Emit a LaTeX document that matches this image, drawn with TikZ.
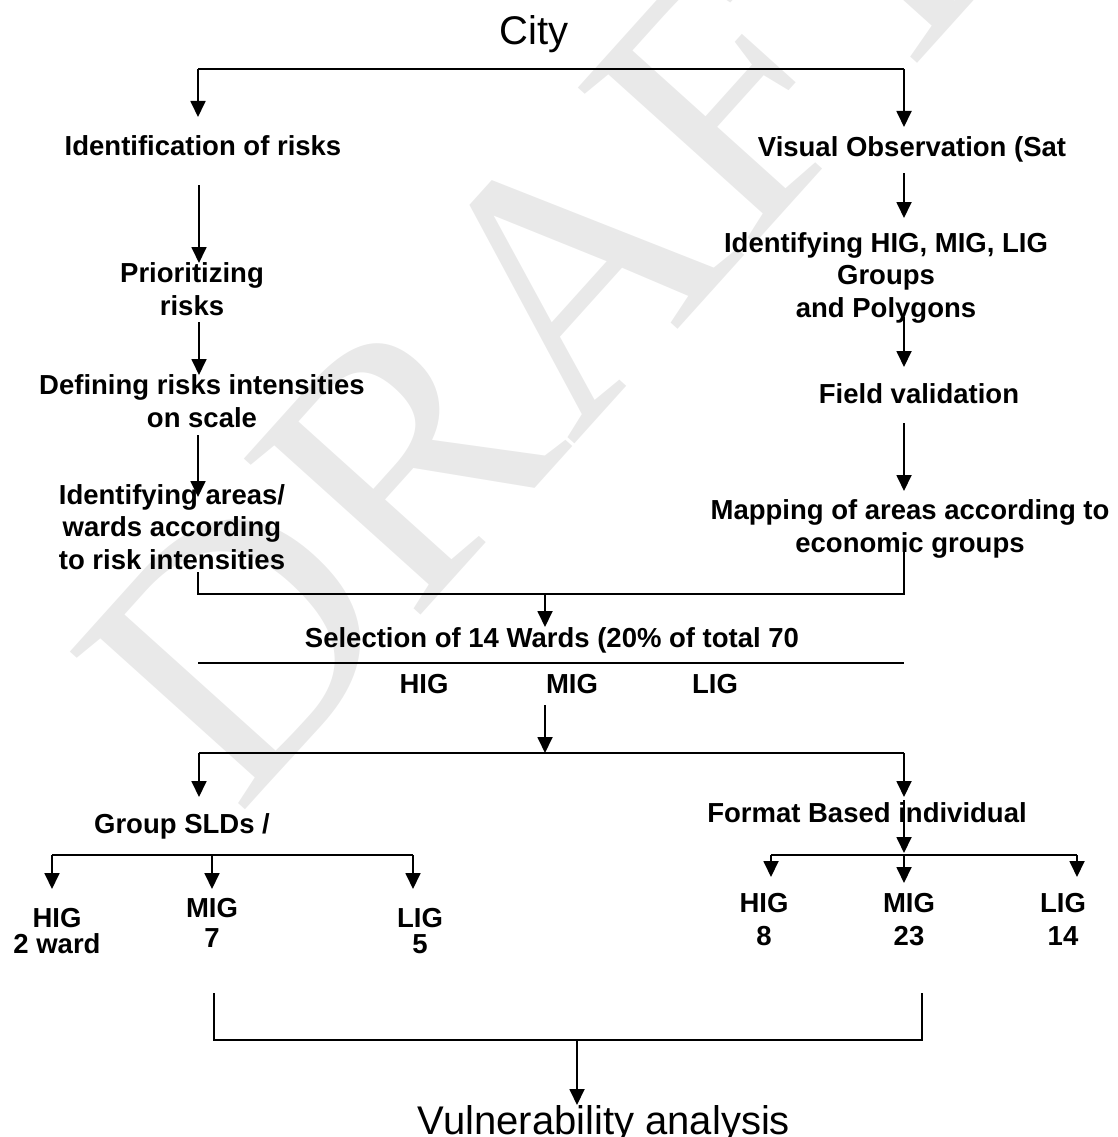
\documentclass[tikz,border=0pt]{standalone}
\usepackage{fontspec}
\setmainfont{Liberation Sans}
\newfontfamily\draftfont{Liberation Serif}
\usetikzlibrary{arrows.meta}

\tikzset{
  lbl/.style={font=\bfseries\fontsize{27.5}{32.5}\selectfont, align=center, anchor=base, inner sep=0pt},
  big/.style={font=\fontsize{40}{48}\selectfont, anchor=base, inner sep=0pt},
  link/.style={line width=1.8pt},
  arr/.style={line width=1.8pt, -{Triangle[width=15pt,length=16pt]}},
}

\begin{document}
\begin{tikzpicture}[x=1pt, y=-1pt]
    \useasboundingbox (0,0) rectangle (1118,1137);

    % watermark
    \node[text=gray!17, rotate=48, inner sep=0pt, font=\draftfont\fontsize{360}{360}\selectfont] (draft) at (545,300) {DRAFT};

    % labels (base = last line)
    \node[big] (city) at (534,45) {City};
    \node[lbl] (idrisk) at (203,155) {Identification of risks};
    \node[lbl] (prio) at (192,315) {Prioritizing\\risks};
    \node[lbl] (defrisk) at (202,427) {Defining risks intensities\\on scale};
    \node[lbl] (idarea) at (172,569) {Identifying areas/\\wards according\\to risk intensities};
    \node[lbl] (visual) at (912,157) {Visual Observation (Sat};
    \node[lbl] (idgroup) at (886,317) {Identifying HIG, MIG, LIG\\Groups\\and Polygons};
    \node[lbl] (field) at (919,403) {Field validation};
    \node[lbl] (mapping) at (910,552) {Mapping of areas according to\\economic groups};
    \node[lbl] (select) at (552,647) {Selection of 14 Wards (20\% of total 70};
    \node[lbl] (hig) at (424,693) {HIG};
    \node[lbl] (mig) at (572,693) {MIG};
    \node[lbl] (lig) at (715,693) {LIG};
    \node[lbl] (group) at (182,833) {Group SLDs /};
    \node[lbl] (format) at (867,822) {Format Based individual};
    \node[lbl] (ghig) at (57,953) {HIG\\[-6.5pt]2 ward};
    \node[lbl] (gmig) at (212,947) {MIG\\[-2.5pt]7};
    \node[lbl] (glig) at (420,953) {LIG\\[-6.5pt]5};
    \node[lbl] (fhig) at (764,945) {HIG\\8};
    \node[lbl] (fmig) at (909,945) {MIG\\23};
    \node[lbl] (flig) at (1063,945) {LIG\\14};
    \node[big] (vuln) at (604,1134) {Vulnerability analysis};

    % junction points
    \coordinate (topL) at (198,69);
    \coordinate (topR) at (904,69);
    \coordinate (idriskT) at (198,117);
    \coordinate (visualT) at (904,127);
    \coordinate (idriskB) at (199,185);
    \coordinate (prioT) at (199,263);
    \coordinate (prioB) at (199,322);
    \coordinate (defriskT) at (199,375);
    \coordinate (defriskB) at (198,435);
    \coordinate (idareaT) at (198,497);
    \coordinate (idareaB) at (198,572);
    \coordinate (visualB) at (904,173);
    \coordinate (idgroupT) at (904,218);
    \coordinate (idgroupB) at (904,317);
    \coordinate (fieldT) at (904,367);
    \coordinate (fieldB) at (904,423);
    \coordinate (mappingT) at (904,491);
    \coordinate (mappingB) at (904,548);
    \coordinate (joinA) at (545,594);
    \coordinate (selectT) at (545,627);
    \coordinate (lineL) at (198,663);
    \coordinate (lineR) at (904,663);
    \coordinate (splitT) at (545,705);
    \coordinate (splitB) at (545,753);
    \coordinate (splitL) at (199,753);
    \coordinate (splitR) at (904,753);
    \coordinate (groupT) at (199,797);
    \coordinate (formatT) at (904,797);
    \coordinate (formatB) at (904,800);
    \coordinate (fbarM) at (904,855);
    \coordinate (fbarL) at (771,855);
    \coordinate (fbarR) at (1077,855);
    \coordinate (gbarL) at (52,855);
    \coordinate (gbarM) at (212,855);
    \coordinate (gbarR) at (413,855);
    \coordinate (endL) at (214,993);
    \coordinate (endR) at (922,993);
    \coordinate (endM) at (577,1040);
    \coordinate (vulnT) at (577,1105);

    % city split
    \draw[link] (topL) -- (topR);
    \draw[arr] (topL) -- (idriskT);
    \draw[arr] (topR) -- (visualT);

    % risk chain
    \draw[arr] (idriskB) -- (prioT);
    \draw[arr] (prioB) -- (defriskT);
    \draw[arr] (defriskB) -- (idareaT);

    % economic chain
    \draw[arr] (visualB) -- (idgroupT);
    \draw[arr] (idgroupB) -- (fieldT);
    \draw[arr] (fieldB) -- (mappingT);

    % join into selection
    \draw[link] (idareaB) |- (joinA) -| (mappingB);
    \draw[arr] (joinA) -- (selectT);
    \draw[link] (lineL) -- (lineR);

    % survey split
    \draw[arr] (splitT) -- (splitB);
    \draw[link] (splitL) -- (splitR);
    \draw[arr] (splitL) -- (groupT);
    \draw[arr] (splitR) -- (formatT);

    % group SLDs
    \draw[link] (gbarL) -- (gbarR);
    \draw[arr] (gbarL) -- (gbarL |- 0,889);
    \draw[arr] (gbarM) -- (gbarM |- 0,889);
    \draw[arr] (gbarR) -- (gbarR |- 0,889);

    % format based
    \draw[arr] (formatB) -- (fbarM |- 0,853);
    \draw[link] (fbarL) -- (fbarR);
    \draw[arr] (fbarL) -- (fbarL |- 0,877);
    \draw[arr] (fbarM) -- (fbarM |- 0,883);
    \draw[arr] (fbarR) -- (fbarR |- 0,877);

    % vulnerability
    \draw[link] (endL) |- (endM) -| (endR);
    \draw[arr] (endM) -- (vulnT);
\end{tikzpicture}
\end{document}
